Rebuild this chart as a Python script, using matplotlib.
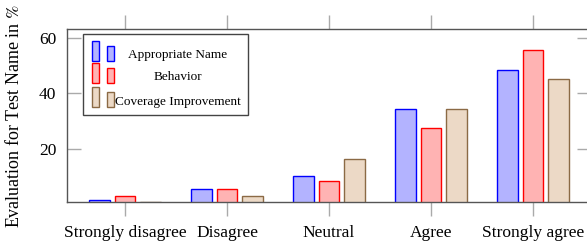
import matplotlib.pyplot as plt
import numpy as np
from matplotlib.patches import Rectangle

categories = ["Strongly disagree", "Disagree", "Neutral", "Agree", "Strongly agree"]
series_names = ["Appropriate Name", "Behavior", "Coverage Improvement"]
appropriate_name = [1.6, 5.5, 10.2, 34.5, 48.5]
behavior = [3.1, 5.5, 8.6, 27.4, 55.4]
coverage_improvement = [0.9, 3.2, 16.4, 34.5, 45.2]

fills = ["#b3b3ff", "#ffb3b3", "#ecd9c6"]
edges = ["#0000ff", "#ff0000", "#8b6a45"]

plt.rcParams["font.family"] = ["Liberation Serif", "DejaVu Serif"]
plt.rcParams["mathtext.fontset"] = "stix"

W, H = 587, 244
fig = plt.figure(figsize=(W / 100, H / 100), dpi=100)
ax = fig.add_axes([67.3 / W, 1 - 202.3 / H, 523.4 / W, 173.3 / H])

x = np.arange(len(categories))
for i, vals in enumerate([appropriate_name, behavior, coverage_improvement]):
    ax.bar(x + (i - 1) * 0.25, vals, width=0.2, color=fills[i], edgecolor=edges[i],
           linewidth=1.0, zorder=2)

ax.set_xlim(-0.566, len(categories) - 1 + 0.566)
ax.set_ylim(0.85, 63.1)
ax.set_xticks(x)
ax.set_xticklabels(categories, fontsize=12.5)
ax.set_yticks([20, 40, 60])
ax.tick_params(axis="y", labelsize=12.5, direction="in", length=10, width=1,
               color="#aaaaaa", right=True, pad=8)
ax.tick_params(axis="x", direction="out", length=10, width=1, color="#aaaaaa",
               top=True, pad=6)
for s in ["left", "top", "bottom"]:
    ax.spines[s].set_color("#555555")
    ax.spines[s].set_linewidth(1.0)
ax.spines["right"].set_visible(False)
fig.text(14 / W, 1 - 116 / H, r"Evaluation for Test Name in $\%$", rotation=90,
         fontsize=13, ha="center", va="center")


# legend drawn by hand in pgfplots style: two small bars per entry
def px(xp, yp):
    return xp / W, 1 - yp / H


lx0, ly0, lx1, ly1 = 83.3, 34.3, 247.7, 115.0
fig.add_artist(Rectangle(px(lx0, ly1), (lx1 - lx0) / W, (ly1 - ly0) / H,
                         transform=fig.transFigure, facecolor="white",
                         edgecolor="#444444", linewidth=1.0, zorder=5))
row_bottoms = [60.7, 82.7, 107.3]
for i, name in enumerate(series_names):
    yb = row_bottoms[i]
    for bx, h in [(91.7, 20.0), (106.7, 15.0)]:
        fig.add_artist(Rectangle(px(bx, yb), 7.5 / W, h / H, transform=fig.transFigure,
                                 facecolor=fills[i], edgecolor=edges[i],
                                 linewidth=1.0, zorder=6))
    fig.text(*px(177.5, yb - 5.5), name, fontsize=9.5, ha="center", va="center",
             zorder=7)

fig.savefig("out.png", dpi=100)
